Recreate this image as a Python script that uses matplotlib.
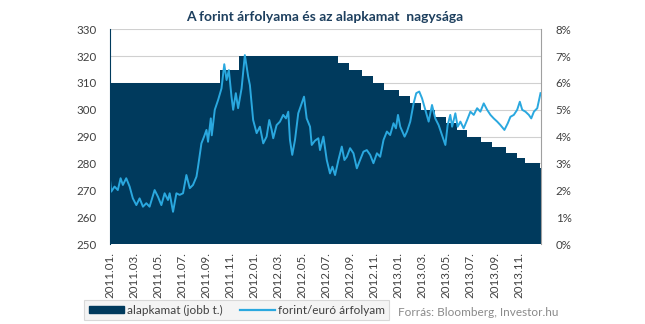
import matplotlib
matplotlib.use('Agg')
import matplotlib.pyplot as plt
import numpy as np

# Időtengely: hónapok 2011.01. óta
honap = np.array([0.0, 0.14, 0.42, 0.69, 0.92, 1.11, 1.39, 1.67, 1.94, 2.23,
                  2.5, 2.78, 3.06, 3.33, 3.75, 4.03, 4.31, 4.58, 4.86, 5.0,
                  5.28, 5.56, 5.83, 6.11, 6.39, 6.67, 6.94, 7.23, 7.36, 7.64,
                  7.86, 8.06, 8.19, 8.42, 8.5, 8.75, 9.03, 9.31, 9.54, 9.73,
                  9.92, 10.14, 10.28, 10.5, 10.69, 10.98, 11.25, 11.53, 11.67, 11.94,
                  12.23, 12.5, 12.78, 13.06, 13.28, 13.48, 13.61, 13.89, 14.17, 14.44,
                  14.67, 14.86, 15.0, 15.19, 15.42, 15.69, 15.98, 16.17, 16.39, 16.67,
                  16.81, 17.08, 17.36, 17.5, 17.78, 18.06, 18.33, 18.53, 18.75, 19.03,
                  19.31, 19.53, 19.73, 20.0, 20.28, 20.56, 20.83, 21.11, 21.39, 21.67,
                  21.94, 22.23, 22.5, 22.78, 23.06, 23.33, 23.61, 23.81, 23.98, 24.17,
                  24.53, 24.73, 25.0, 25.28, 25.5, 25.75, 25.98, 26.25, 26.53, 26.81,
                  27.08, 27.36, 27.64, 27.92, 28.11, 28.33, 28.48, 28.75, 28.94, 29.17,
                  29.44, 29.73, 30.0, 30.28, 30.56, 30.83, 31.11, 31.39, 31.67, 31.94,
                  32.23, 32.5, 32.83, 33.11, 33.33, 33.61, 33.89, 34.11, 34.31, 34.58,
                  34.86, 35.06, 35.28, 35.56, 35.83])

# forint/euró árfolyam
eur_huf = np.array([275.7, 269.5, 271.4, 270.1, 274.5, 272.0, 274.5, 271.4, 267.0, 264.5,
                    267.0, 263.9, 265.2, 263.9, 270.1, 267.6, 264.5, 268.9, 266.4, 268.9,
                    262.0, 268.9, 268.3, 268.9, 275.7, 270.8, 272.0, 275.1, 278.8, 287.5,
                    290.0, 292.5, 288.1, 296.8, 290.5, 300.0, 303.7, 308.0, 317.0, 311.1,
                    314.8, 304.9, 300.0, 306.2, 300.6, 308.0, 320.4, 312.3, 309.2, 296.2,
                    291.3, 293.7, 287.5, 290.0, 296.2, 292.5, 289.4, 294.3, 295.6, 298.1,
                    296.8, 299.3, 288.8, 283.2, 288.8, 298.7, 302.4, 304.9, 296.8, 293.7,
                    286.9, 288.5, 289.4, 285.0, 290.0, 281.3, 276.3, 278.8, 275.7, 281.3,
                    286.3, 281.3, 282.5, 285.7, 283.8, 278.2, 281.3, 284.4, 285.0, 283.2,
                    280.1, 283.8, 282.5, 288.8, 291.9, 290.6, 295.0, 293.1, 298.1, 293.7,
                    290.0, 291.9, 295.6, 302.4, 306.2, 306.8, 304.3, 300.0, 295.6, 301.8,
                    296.8, 294.3, 290.6, 286.9, 294.3, 298.1, 293.7, 298.7, 293.7, 295.6,
                    293.1, 296.2, 299.3, 298.1, 300.6, 299.3, 302.4, 300.0, 298.1, 296.8,
                    295.6, 294.3, 292.5, 295.0, 297.4, 298.1, 300.0, 303.0, 300.0, 299.3,
                    298.1, 296.8, 299.3, 300.6, 306.2])

# Alapkamat (%) és a változások időpontjai
kamat_honap = np.array([0.0, 9.22, 10.78, 19.03, 19.94, 20.98, 21.94, 22.78, 24.03, 25.0,
                        25.92, 27.08, 28.0, 28.89, 29.73, 30.92, 31.81, 32.92, 33.89, 34.58,
                        35.75, 35.83])
alapkamat = np.array([6.0, 6.5, 7.0, 6.75, 6.5, 6.25, 6.0, 5.75, 5.5, 5.25,
                      5.0, 4.75, 4.5, 4.25, 4.0, 3.8, 3.6, 3.4, 3.2, 3.0,
                      2.85, 2.85])

tick_pos = np.arange(0, 35, 2)
tick_labels = ['2011.01.', '2011.03.', '2011.05.', '2011.07.', '2011.09.', '2011.11.',
               '2012.01.', '2012.03.', '2012.05.', '2012.07.', '2012.09.', '2012.11.',
               '2013.01.', '2013.03.', '2013.05.', '2013.07.', '2013.09.', '2013.11.']

sotetkek = '#003a5d'
vilagoskek = '#2aa8df'
szurke = '#404040'

plt.rcParams['font.family'] = ['Lato', 'DejaVu Sans']

fig = plt.figure(figsize=(6.45, 3.24), dpi=100)
ax = fig.add_axes([0.1698, 0.2469, 0.6682, 0.6627])
ax2 = ax.twinx()

# alapkamat a jobb tengelyen
ax2.fill_between(kamat_honap, alapkamat, 0, step='post', color=sotetkek, linewidth=0)
ax2.set_ylim(0, 8)
ax2.set_yticks(np.arange(0, 9, 1))
ax2.set_yticklabels([f'{v}%' for v in range(9)])
ax2.grid(True, axis='y', color='#d0d0d0', linewidth=0.8)
ax2.set_axisbelow(True)

# árfolyam a bal tengelyen, a kitöltés fölött
ax.set_zorder(ax2.get_zorder() + 1)
ax.patch.set_visible(False)
ax.plot(honap, eur_huf, color=vilagoskek, linewidth=1.4)
ax.set_ylim(250, 330)
ax.set_yticks(np.arange(250, 331, 10))
ax.set_xlim(0, 35.83)
ax.set_xticks(tick_pos)
ax.set_xticklabels(tick_labels, rotation=90)

for a in (ax, ax2):
    a.tick_params(length=0, labelsize=8.3, labelcolor=szurke)
    a.spines['top'].set_visible(False)
    a.spines['bottom'].set_visible(False)
ax.tick_params(axis='y', pad=9)
ax.tick_params(axis='x', pad=6)
ax2.tick_params(axis='y', pad=11)
ax.spines['left'].set_color(sotetkek)
ax.spines['right'].set_visible(False)
ax2.spines['left'].set_visible(False)
ax2.spines['right'].set_color('#a0a0a0')

ax.set_title('A forint árfolyama és az alapkamat  nagysága', fontsize=10,
             fontweight='bold', color='#1d3f5e', pad=6)

# jelmagyarázat
handles = [plt.Rectangle((0, 0), 1, 1, color=sotetkek),
           plt.Line2D([], [], color=vilagoskek, linewidth=1.6)]
leg = fig.legend(handles, ['alapkamat (jobb t.)', 'forint/euró árfolyam'],
                 loc='center', bbox_to_anchor=(0.367, 0.043), ncol=2,
                 fontsize=8.5, frameon=True, fancybox=False, handlelength=3.0,
                 handleheight=0.5, handletextpad=0.2, columnspacing=1.5,
                 borderpad=0.4)
leg.get_frame().set_facecolor('#f2f2f2')
leg.get_frame().set_edgecolor('#d0d0d0')
leg.get_frame().set_linewidth(0.8)
for t in leg.get_texts():
    t.set_color(szurke)

fig.text(0.865, 0.037, 'Forrás: Bloomberg, Investor.hu', fontsize=8.5,
         color='#8a8a8a', ha='right', va='center')

fig.savefig('out.png', dpi=100)
